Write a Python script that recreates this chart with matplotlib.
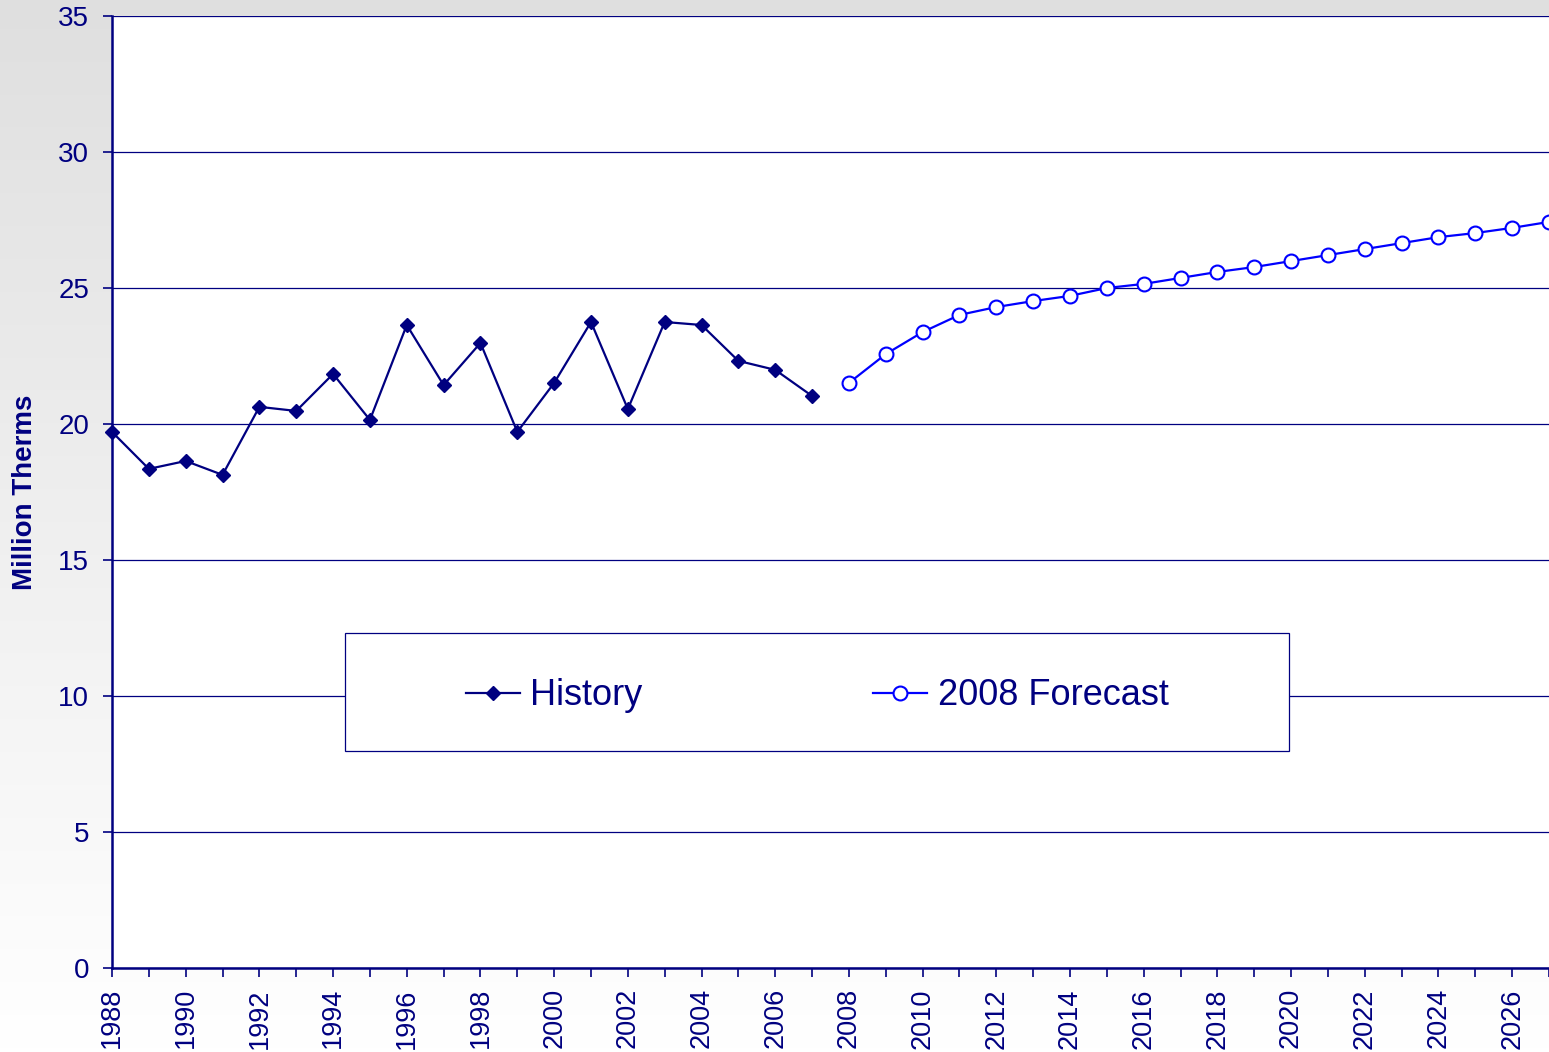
import matplotlib.pyplot as plt
import numpy as np
from matplotlib.patches import Rectangle

plt.rcParams['font.family'] = ['Liberation Sans', 'DejaVu Sans']

# data
hist_years = list(range(1988, 2008))
hist_vals = [19.71, 18.35, 18.64, 18.13, 20.63, 20.48, 21.84, 20.15, 23.64, 21.43,
             22.98, 19.71, 21.51, 23.75, 20.55, 23.75, 23.64, 22.32, 21.99, 21.03]
fc_years = list(range(2008, 2028))
fc_vals = [21.51, 22.57, 23.38, 24.01, 24.30, 24.52, 24.71, 25.00, 25.15, 25.37,
           25.59, 25.77, 25.99, 26.21, 26.43, 26.65, 26.87, 27.02, 27.21, 27.43]

navy = '#000080'
blue = '#0000FF'

fig = plt.figure(figsize=(15.49, 10.52), dpi=100)

# gray-to-white gradient backdrop
bg = fig.add_axes([0, 0, 1, 1], zorder=-10)
grad = np.linspace(0.875, 1.0, 256).reshape(-1, 1)
bg.imshow(np.dstack([grad, grad, grad]), aspect='auto', extent=[0, 1, 0, 1])
bg.axis('off')

W, H = 1549, 1052
ax = fig.add_axes([112 / W, 1 - 968 / H, (W - 112) / W, (968 - 16) / H])
ax.set_facecolor('white')

ax.plot(hist_years, hist_vals, color=navy, lw=1.6, marker='D', ms=7,
        mfc=navy, mec=navy, label='History', clip_on=False, zorder=3)
ax.plot(fc_years, fc_vals, color=blue, lw=1.6, marker='o', ms=10,
        mfc='white', mec=blue, mew=1.5, label='2008 Forecast', zorder=3)

ax.set_xlim(1988, 2027)
ax.set_ylim(0, 35)
ax.set_yticks(range(0, 36, 5))
ax.set_xticks(range(1988, 2028))
ax.set_xticklabels([str(y) if y % 2 == 0 else '' for y in range(1988, 2028)],
                   rotation=90, ha='center', va='top')

ax.grid(axis='y', color=navy, lw=0.9)
ax.set_axisbelow(True)
for s in ['top', 'right']:
    ax.spines[s].set_visible(False)
for s in ['left', 'bottom']:
    ax.spines[s].set_color(navy)
    ax.spines[s].set_linewidth(1.8)

ax.tick_params(axis='y', colors=navy, labelsize=20, length=6.5, width=1.2, pad=10)
ax.tick_params(axis='x', colors=navy, labelsize=19.5, length=6.5, width=1.2, pad=8)

ax.set_ylabel('Million Therms', fontsize=20, fontweight='bold', color=navy)
ax.yaxis.set_label_coords(-0.0515, 0.5)

# legend box
x0, x1 = (345 - 112) / 1437, (1289 - 112) / 1437
y0, y1 = (968 - 751) / 952, (968 - 633) / 952
ax.add_patch(Rectangle((x0, y0), x1 - x0, y1 - y0, transform=ax.transAxes,
                       facecolor='white', edgecolor=navy, lw=0.9, zorder=4))
leg = ax.legend(loc='center', bbox_to_anchor=((x0 + x1) / 2, (y0 + y1) / 2 - 0.004),
                ncol=2, frameon=False, fontsize=26, handlelength=1.5,
                handletextpad=0.28, columnspacing=6.4)
leg.set_zorder(5)
for t in leg.get_texts():
    t.set_color(navy)

fig.savefig('out.png', dpi=100)
